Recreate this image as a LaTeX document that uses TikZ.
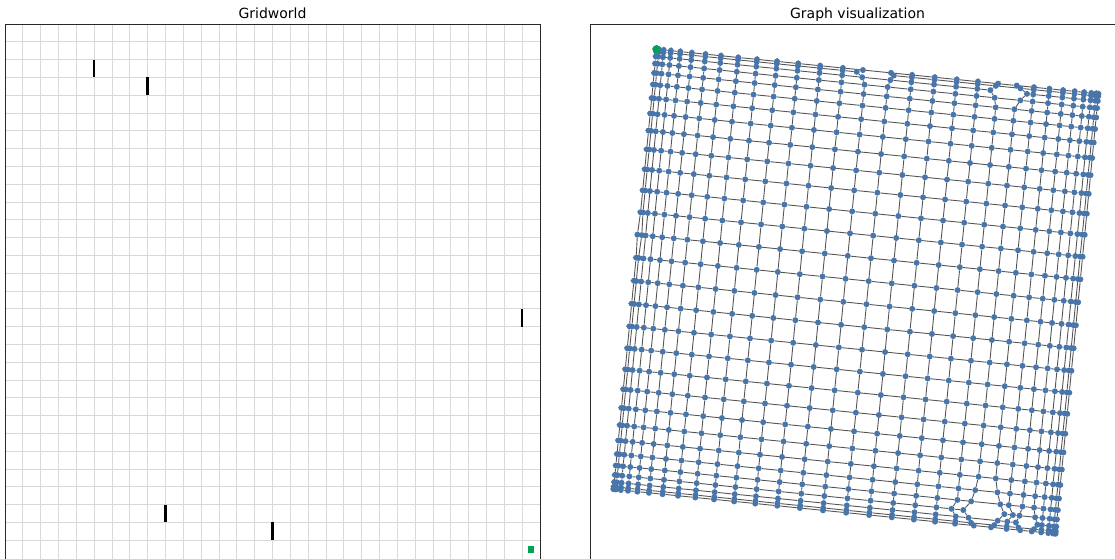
\documentclass[tikz,border=0pt]{standalone}
\usepackage{fontspec}
\setmainfont{DejaVu Sans}
\pgfdeclarelayer{background}
\pgfsetlayers{background,main}
\definecolor{gridgray}{RGB}{216,216,216}
\definecolor{goalgreen}{RGB}{0,163,84}
\definecolor{nodeblue}{RGB}{72,118,170}
\definecolor{edgegray}{RGB}{85,85,85}
\definecolor{spinecol}{RGB}{40,40,40}
\tikzset{
  gnode/.style={circle, fill=nodeblue, draw=none, inner sep=0pt, minimum size=6pt},
  goalnode/.style={circle, fill=goalgreen, draw=none, inner sep=0pt, minimum size=8pt},
  gedge/.style={draw=edgegray, line width=0.9pt},
  gridline/.style={draw=gridgray, line width=1pt},
  spine/.style={draw=spinecol, line width=1pt},
  wall/.style={draw=black, line width=2.4pt},
  goalsq/.style={fill=goalgreen, draw=none},
  titletext/.style={font=\fontsize{14}{16}\selectfont, anchor=base, inner sep=0pt},
}
% local displacements of graph nodes (px along the row direction)
\def\setoff#1#2#3{\expandafter\def\csname goff-#1-#2\endcsname{#3}}
\setoff{21}{26}{-12}\setoff{22}{26}{12}\setoff{20}{26}{-5}\setoff{23}{26}{5}
\setoff{21}{25}{-5}\setoff{22}{25}{7}
\setoff{21}{27}{-6}\setoff{22}{27}{6}
\setoff{21}{24}{-2}\setoff{22}{24}{3}
\setoff{21}{28}{-3}\setoff{22}{28}{3}
\setoff{24}{27}{-5}\setoff{25}{27}{5}
\setoff{24}{26}{-2}\setoff{25}{26}{2}
\setoff{24}{28}{-2}\setoff{25}{28}{2}
\setoff{20}{2}{-7}\setoff{21}{2}{11}
\setoff{21}{1}{4}\setoff{21}{3}{5}\setoff{20}{1}{-2}\setoff{20}{3}{-2}
\setoff{14}{1}{-9}\setoff{15}{1}{5}
\setoff{14}{0}{-3}\setoff{14}{2}{-3}\setoff{15}{0}{2}\setoff{15}{2}{2}
\setoff{0}{13}{-1}\setoff{1}{13}{1}
% edges (i,j)-(i+1,j) cut by walls
\def\setskip#1#2{\expandafter\def\csname gskip-#1-#2\endcsname{}}
\setskip{21}{26}\setskip{24}{27}\setskip{20}{2}\setskip{14}{1}\setskip{0}{13}
\begin{document}
\begin{tikzpicture}[x=1pt,y=-1pt]
\useasboundingbox (0,0) rectangle (1115,558);
% ---------- Gridworld ----------
\foreach \k in {1,...,29}{
  \draw[gridline] ({5+\k*17.8333},24) -- ({5+\k*17.8333},560);
  \draw[gridline] (5,{24+\k*17.8}) -- (540,{24+\k*17.8});
}
\draw[spine] (5,560) -- (5,24) -- (540,24) -- (540,560);
\foreach \k/\r in {5/2, 8/3, 29/16, 9/27, 15/28}{
  \draw[wall] ({5+\k*17.8333},{24+\r*17.8}) -- ({5+\k*17.8333},{24+(\r+1)*17.8});
}
\path[goalsq] ({5+29.5*17.8333-3.4},{24+29.5*17.8-3.4}) rectangle ++(6.8,6.8);
\node[titletext] (t1) at (272.5,18.5) {Gridworld};
% ---------- Graph visualization ----------
\draw[spine] (590,560) -- (590,24) -- (1116,24);
\node[titletext] (t2) at (857.5,18.5) {Graph visualization};
\foreach \i in {0,...,29}{
  \foreach \j in {0,...,29}{
    \pgfmathsetmacro\p{-cos(6*(\i+0.5))}
    \pgfmathsetmacro\q{-cos(6*(\j+0.5))}
    \ifcsname goff-\i-\j\endcsname
      \edef\d{\csname goff-\i-\j\endcsname}%
    \else
      \def\d{0}%
    \fi
    \pgfmathsetmacro\X{856+\p*221.3-\q*21.5+\d*0.995}
    \pgfmathsetmacro\Y{291.5+\p*22.3+\q*220.3+\d*0.1}
    \ifnum\i=0 \ifnum\j=0 \tikzset{cur/.style={goalnode}}\else\tikzset{cur/.style={gnode}}\fi
    \else \tikzset{cur/.style={gnode}}\fi
    \node[cur] (n-\i-\j) at (\X,\Y) {};
  }
}
\begin{pgfonlayer}{background}
\foreach \i in {0,...,28}{
  \pgfmathtruncatemacro\ii{\i+1}
  \foreach \j in {0,...,29}{
    \ifcsname gskip-\i-\j\endcsname\else
      \draw[gedge] (n-\i-\j) -- (n-\ii-\j);
    \fi
  }
}
\foreach \i in {0,...,29}{
  \foreach \j in {0,...,28}{
    \pgfmathtruncatemacro\jj{\j+1}
    \draw[gedge] (n-\i-\j) -- (n-\i-\jj);
  }
}
\end{pgfonlayer}
% goal node again on top of its neighbours
\node[goalnode] (goaltop) at (n-0-0) {};
\end{tikzpicture}
\end{document}
